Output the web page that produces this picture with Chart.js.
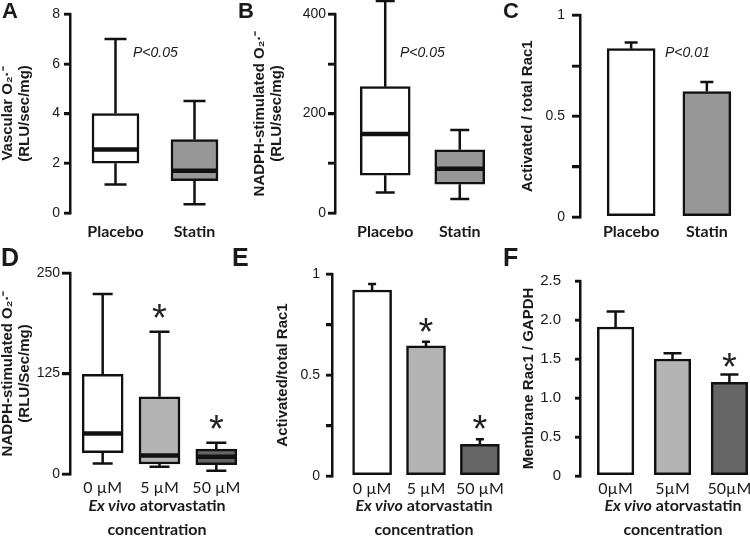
<!DOCTYPE html>
<html>
<head>
<meta charset="utf-8">
<script src="https://cdn.jsdelivr.net/npm/chart.js@4.4.0/dist/chart.umd.min.js"></script>
<style>
  body { margin: 0; width: 750px; height: 541px; position: relative; background: #fff; overflow: hidden;
         font-family: 'Liberation Sans', Arial, sans-serif; color: #1a1a1a; }
  canvas { position: absolute; }
  .lbl { position: absolute; font-weight: bold; line-height: 1; }
  .p { position: absolute; font-style: italic; font-size: 14px; line-height: 1; }
  .xt { position: absolute; width: 200px; font-family: Lato, sans-serif; font-weight: bold; font-size: 16px;
        line-height: 24px; text-align: center; }
</style>
</head>
<body>
<canvas id="cA"></canvas>
<canvas id="cB"></canvas>
<canvas id="cC"></canvas>
<canvas id="cD"></canvas>
<canvas id="cE"></canvas>
<canvas id="cF"></canvas>

<div class="lbl" style="left:2px;top:0px;font-size:22px">A</div>
<div class="lbl" style="left:238px;top:0px;font-size:22px">B</div>
<div class="lbl" style="left:503px;top:0px;font-size:22px">C</div>
<div class="lbl" style="left:1px;top:245px;font-size:25px">D</div>
<div class="lbl" style="left:232px;top:245px;font-size:25px">E</div>
<div class="lbl" style="left:503px;top:245px;font-size:25px">F</div>

<div class="p" style="left:133px;top:45px">P&lt;0.05</div>
<div class="p" style="left:400px;top:45px">P&lt;0.05</div>
<div class="p" style="left:665px;top:45px">P&lt;0.01</div>

<div class="xt" style="left:57px;top:493px"><i>Ex vivo</i> atorvastatin<br>concentration</div>
<div class="xt" style="left:324px;top:493px"><i>Ex vivo</i> atorvastatin<br>concentration</div>
<div class="xt" style="left:573px;top:493px"><i>Ex vivo</i> atorvastatin<br>concentration</div>

<script>
// groups
const treatGroups = ['Placebo', 'Statin'];
const doseLabels = ['0 µM', '5 µM', '50 µM'];
const doseLabelsF = ['0µM', '5µM', '50µM'];

// A: vascular O2- (box plot)
const vascMin = [1.15, 0.35];
const vascQ1 = [2.0, 1.3];
const vascMed = [2.55, 1.7];
const vascQ3 = [4.0, 2.95];
const vascMax = [7.0, 4.5];

// B: NADPH-stimulated O2- (box plot)
const nadphMin = [41, 28];
const nadphQ1 = [76, 58];
const nadphMed = [159, 89];
const nadphQ3 = [254, 127];
const nadphMax = [426, 167];

// C: activated / total Rac1
const racMean = [0.835, 0.622];
const racErr = [0.03, 0.048];

// D: ex vivo NADPH-stimulated O2- (box plot)
const exMin = [13, 9, 4];
const exQ1 = [26.5, 12.4, 11.6];
const exMed = [50.5, 23, 21.5];
const exQ3 = [124, 96, 31];
const exMax = [224, 177, 39];
const exSig = ['', '*', '*'];

// E: ex vivo activated / total Rac1
const exRacMean = [0.921, 0.644, 0.157];
const exRacErr = [0.029, 0.021, 0.025];
const exRacSig = ['', '*', '*'];

// F: membrane Rac1 / GAPDH
const memMean = [1.91, 1.50, 1.20];
const memErr = [0.20, 0.075, 0.10];
const memSig = ['', '', '*'];

const INK = '#111';
const SANS = "'Liberation Sans', Arial, sans-serif";

function makePanel(id, g) {
  const n = g.labels.length;
  const half = (g.firstCenter - g.axisX) / g.spacing;
  const xMin = -half, xMax = (n - 1) + half;
  const chartRight = g.axisX + (xMax - xMin) * g.spacing;
  const width = Math.ceil(chartRight - g.left + 2);
  const cv = document.getElementById(id);
  cv.width = width; cv.height = g.height;
  cv.style.left = g.left + 'px'; cv.style.top = g.top + 'px';

  const isBox = !!g.q1;
  const data = g.labels.map((_, i) => ({ x: i, y: isBox ? [g.q1[i], g.q3[i]] : g.mean[i] }));

  const marks = {
    id: 'marks',
    beforeDatasetsDraw(chart) {
      // whiskers / error bars (the box border covers their inner end)
      const { ctx, scales: { x, y } } = chart;
      ctx.save();
      ctx.strokeStyle = INK; ctx.lineWidth = 2.5;
      g.labels.forEach((_, i) => {
        const px = x.getPixelForValue(i);
        const segs = isBox
          ? [[g.q3[i], g.max[i]], [g.q1[i], g.min[i]]]
          : [[g.mean[i], g.mean[i] + g.err[i]]];
        segs.forEach(([a, b]) => {
          const ya = y.getPixelForValue(a), yb = y.getPixelForValue(b);
          ctx.beginPath();
          ctx.moveTo(px, ya); ctx.lineTo(px, yb);
          ctx.moveTo(px - g.cap / 2, yb); ctx.lineTo(px + g.cap / 2, yb);
          ctx.stroke();
        });
      });
      ctx.restore();
    },
    afterDatasetsDraw(chart) {
      const { ctx, scales: { x, y } } = chart;
      ctx.save();
      if (isBox) {
        ctx.strokeStyle = INK; ctx.lineWidth = 4.5;
        g.labels.forEach((_, i) => {
          const px = x.getPixelForValue(i), py = y.getPixelForValue(g.med[i]);
          ctx.beginPath();
          ctx.moveTo(px - g.bw / 2 + 1, py); ctx.lineTo(px + g.bw / 2 - 1, py);
          ctx.stroke();
        });
      }
      if (g.sig) {
        ctx.fillStyle = '#222';
        ctx.font = "38px " + SANS;
        ctx.textAlign = 'center';
        ctx.textBaseline = 'alphabetic';
        g.labels.forEach((_, i) => {
          if (!g.sig[i]) return;
          const top = isBox ? g.max[i] : g.mean[i] + g.err[i];
          const py = y.getPixelForValue(top) - g.sigGap;
          ctx.fillText(g.sig[i], x.getPixelForValue(i), py + 22);
        });
      }
      ctx.restore();
    },
    afterDraw(chart) {
      // outward tick marks on the value axis
      const { ctx, scales: { y } } = chart;
      const ax = chart.chartArea.left;
      ctx.save();
      ctx.strokeStyle = INK; ctx.lineWidth = 2.5;
      y.ticks.forEach(t => {
        const py = Math.round(y.getPixelForValue(t.value));
        ctx.beginPath();
        ctx.moveTo(ax - g.tl, py); ctx.lineTo(ax + 1, py);
        ctx.stroke();
      });
      ctx.restore();
    }
  };

  return new Chart(cv.getContext('2d'), {
    type: 'bar',
    data: {
      datasets: [{
        data: data,
        backgroundColor: g.colors,
        borderColor: INK,
        borderWidth: 2.5,
        borderSkipped: false,
        barThickness: g.bw
      }]
    },
    options: {
      responsive: false,
      animation: false,
      layout: { padding: { top: g.yTop - g.top, right: 2, left: 0, bottom: 0 } },
      plugins: { legend: { display: false }, tooltip: { enabled: false } },
      scales: {
        x: {
          type: 'linear', min: xMin, max: xMax, bounds: 'data', offset: false,
          grid: { display: false, drawTicks: false, offset: false },
          border: { display: false },
          afterBuildTicks: s => { s.ticks = g.labels.map((_, i) => ({ value: i })); },
          afterFit: s => { s.height = g.top + g.height - g.yZero; },
          ticks: {
            autoSkip: false, maxRotation: 0, padding: g.xPad, color: '#1a1a1a',
            font: g.xFont,
            callback: v => g.labels[v]
          }
        },
        y: {
          type: 'linear', min: 0, max: g.yMax, bounds: 'data',
          afterBuildTicks: s => { s.ticks = g.yTicks.map(v => ({ value: v })); },
          afterFit: s => { s.width = g.axisX - g.left; },
          grid: { display: true, drawOnChartArea: false, drawTicks: true, tickLength: g.tl,
                  color: INK, tickColor: INK, lineWidth: 2.5, tickWidth: 2.5 },
          border: { display: true, color: INK, width: 2.5 },
          ticks: {
            padding: g.yPad, color: '#1a1a1a', font: g.yFont || { family: SANS, size: 14 },
            callback: (v, i) => g.yTickText[i]
          },
          title: {
            display: true, text: g.yTitle, color: '#1a1a1a',
            font: { family: SANS, size: 15, weight: 'bold', lineHeight: 1.1 },
            padding: { top: g.titlePad, bottom: 0 }
          }
        }
      }
    },
    plugins: [marks]
  });
}

const catFont = { family: 'Lato, sans-serif', size: 16, weight: 'bold' };
const doseFont = { family: 'Lato, sans-serif', size: 16 };

makePanel('cA', {
  left: 0, top: 0, height: 250, axisX: 70, yTop: 14, yZero: 213,
  firstCenter: 115.5, spacing: 79, bw: 47, cap: 22, tl: 6, yPad: 4,
  labels: treatGroups, colors: ['#ffffff', '#979797'],
  min: vascMin, q1: vascQ1, med: vascMed, q3: vascQ3, max: vascMax,
  yMax: 8, yTicks: [0, 2, 4, 6, 8], yTickText: ['0', '2', '4', '6', '8'],
  yTitle: ['Vascular O₂·⁻', '(RLU/sec/mg)'], titlePad: 0,
  xFont: catFont, xPad: 9
});

makePanel('cB', {
  left: 250, top: 0, height: 250, axisX: 335, yTop: 14, yZero: 213,
  firstCenter: 385.2, spacing: 74.5, bw: 50, cap: 19, tl: 7, yPad: 2,
  labels: treatGroups, colors: ['#ffffff', '#979797'],
  min: nadphMin, q1: nadphQ1, med: nadphMed, q3: nadphQ3, max: nadphMax,
  yMax: 400, yTicks: [0, 100, 200, 300, 400], yTickText: ['0', '', '200', '', '400'],
  yTitle: ['NADPH-stimulated O₂·⁻', '(RLU/sec/mg)'], titlePad: 2,
  xFont: catFont, xPad: 9
});

makePanel('cC', {
  left: 500, top: 0, height: 250, axisX: 580, yTop: 14, yZero: 217,
  firstCenter: 631, spacing: 75.5, bw: 48, cap: 13, tl: 8, yPad: 7,
  labels: treatGroups, colors: ['#ffffff', '#979797'],
  mean: racMean, err: racErr,
  yMax: 1, yTicks: [0, 0.25, 0.5, 0.75, 1], yTickText: ['0', '', '0.5', '', '1'],
  yTitle: 'Activated / total Rac1', titlePad: 20,
  xFont: catFont, xPad: 5
});

makePanel('cD', {
  left: 0, top: 258, height: 283, axisX: 70, yTop: 273, yZero: 474,
  firstCenter: 102.5, spacing: 56.5, bw: 41, cap: 20, tl: 8, yPad: 2,
  labels: doseLabels, colors: ['#ffffff', '#b3b3b3', '#666666'],
  min: exMin, q1: exQ1, med: exMed, q3: exQ3, max: exMax,
  sig: exSig, sigGap: 23,
  yMax: 250, yTicks: [0, 125, 250], yTickText: ['0', '125', '250'],
  yFont: { family: "'Liberation Sans Narrow', " + SANS, size: 14 },
  yTitle: ['NADPH-stimulated O₂·⁻', '(RLU/Sec/mg)'], titlePad: 0,
  xFont: doseFont, xPad: 4
});

makePanel('cE', {
  left: 250, top: 258, height: 283, axisX: 332, yTop: 274, yZero: 476,
  firstCenter: 372, spacing: 53.75, bw: 39, cap: 8, tl: 6, yPad: 6,
  labels: doseLabels, colors: ['#ffffff', '#b3b3b3', '#666666'],
  mean: exRacMean, err: exRacErr,
  sig: exRacSig, sigGap: 19,
  yMax: 1, yTicks: [0, 0.25, 0.5, 0.75, 1], yTickText: ['0', '', '0.5', '', '1'],
  yTitle: 'Activated/total Rac1', titlePad: 25,
  xFont: doseFont, xPad: 3
});

makePanel('cF', {
  left: 500, top: 258, height: 283, axisX: 580, yTop: 280, yZero: 476,
  firstCenter: 615.5, spacing: 56.75, bw: 36.5, cap: 18, tl: 5, yPad: 14,
  labels: doseLabelsF, colors: ['#ffffff', '#b3b3b3', '#666666'],
  mean: memMean, err: memErr,
  sig: memSig, sigGap: 17,
  yMax: 2.5, yTicks: [0, 0.5, 1, 1.5, 2, 2.5], yTickText: ['0', '0.5', '1.0', '1.5', '2.0', '2.5'],
  yFont: { family: SANS, size: 15 },
  yTitle: 'Membrane Rac1 / GAPDH', titlePad: 21,
  xFont: doseFont, xPad: 3
});
</script>
</body>
</html>
